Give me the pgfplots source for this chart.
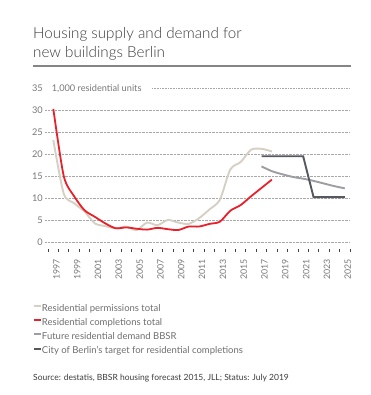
\documentclass[border=0pt]{standalone}
\usepackage{fontspec}
\setmainfont{Lato}
\newfontfamily\titlefont{Lato Light}
\usepackage{pgfplots}
\pgfplotsset{compat=1.18}
\definecolor{permc}{HTML}{D5D0C3}
\definecolor{complc}{HTML}{E8202A}
\definecolor{demc}{HTML}{9C9EA3}
\definecolor{targc}{HTML}{55585F}
\definecolor{gridc}{HTML}{A8A8A8}
\definecolor{tickc}{HTML}{777777}
\definecolor{legc}{HTML}{6E6E6E}
\definecolor{titlec}{HTML}{3C3C3C}
\definecolor{rulec}{HTML}{858585}
\begin{document}
\begin{tikzpicture}[x=1pt,y=1pt]
\path[use as bounding box] (0,0) rectangle (370,395);
\node[anchor=base west, inner sep=0pt, text=titlec, font=\titlefont\fontsize{15.2}{18}\selectfont] at (33,356.7) {Housing supply and demand for};
\node[anchor=base west, inner sep=0pt, text=titlec, font=\titlefont\fontsize{15.2}{18}\selectfont] at (33,337.7) {new buildings Berlin};
\draw[rulec, line width=1.8pt] (33,329.3) -- (351,329.3);
\begin{axis}[
  at={(45pt,143pt)}, anchor=south west,
  scale only axis, width=305pt, height=163.3pt,
  xmin=1996.2, xmax=2025.5, ymin=-2.2, ymax=35,
  axis line style={draw=none},
  ytick={0,5,...,30},
  extra y ticks={35}, extra y tick style={grid=none},
  ymajorgrids,
  grid style={gridc, densely dotted, line width=0.6pt},
  major tick length=0pt,
  xtick={1997,1999,...,2025},
  minor xtick={1996.5,1997.5,...,2025.5},
  minor tick length=3pt,
  tick align=inside,
  xtick pos=bottom,
  minor tick style={black!75, line width=0.9pt},
  xticklabel style={rotate=90, anchor=east, inner sep=0pt, font=\fontsize{8.8}{10}\selectfont, text=tickc, yshift=-3pt},
  xticklabel shift=7pt,
  yticklabel style={inner sep=0pt, font=\fontsize{9.2}{10}\selectfont, text=tickc},
  yticklabel shift=2pt,
  /pgf/number format/assume math mode=true,
  x tick label style={/pgf/number format/1000 sep={}},
  legend style={at={(axis description cs:-0.0384,-0.323)}, anchor=north west, draw=none, fill=none,
    inner sep=0pt, outer sep=0pt, font=\fontsize{9.5}{10}\selectfont, text=legc, row sep=5.3pt,
    nodes={inner sep=0pt, text height=6.8pt, text depth=2pt},
    /tikz/every even column/.append style={column sep=2.4pt}},
  legend cell align=left,
  legend image code/.code={\draw[#1, line width=2pt, line cap=butt] (0pt,2.9pt) -- (6.7pt,2.9pt);},
  clip=false,
]
\addplot[permc, line width=1.9pt, smooth, tension=0.45] table {
x y
1997 23.3
1998 11.1
1999 8.9
2000 7.0
2001 4.3
2002 3.7
2003 3.2
2004 3.6
2005 2.8
2006 4.5
2007 3.9
2008 5.1
2009 4.5
2010 4.2
2011 5.5
2012 7.5
2013 9.7
2014 16.6
2015 18.3
2016 21.1
2017 21.3
2018 20.7
};
\addlegendentry{Residential permissions total}
\addplot[complc, line width=1.8pt, smooth, tension=0.45] table {
x y
1997 30.4
1998 15.1
1999 10.5
2000 7.3
2001 5.8
2002 4.3
2003 3.2
2004 3.4
2005 3.1
2006 2.9
2007 3.3
2008 3.0
2009 2.8
2010 3.6
2011 3.6
2012 4.2
2013 4.7
2014 7.2
2015 8.5
2016 10.5
2017 12.4
2018 14.3
};
\addlegendentry{Residential completions total}
\addplot[demc, line width=1.9pt, smooth, tension=0.4] table {
x y
2017 17.3
2018 16.2
2019 15.5
2020 14.9
2021 14.5
2022 14.0
2023 13.4
2024 12.8
2025 12.3
};
\addlegendentry{Future residential demand BBSR}
\addplot[targc, line width=1.9pt] table {
x y
2017 19.6
2018 19.6
2019 19.6
2020 19.6
2021 19.6
2022 10.3
2023 10.3
2024 10.3
2025 10.3
};
\addlegendentry{City of Berlin's target for residential completions}
\end{axis}
\draw[gridc, densely dotted, line width=0.6pt] (152,306.3) -- (350,306.3);
\node[anchor=west, inner sep=0pt, text=tickc, font=\fontsize{9.2}{10}\selectfont] at (51.7,306.3) {1,000 residential units};
\node[anchor=base west, inner sep=0pt, text=titlec, font=\fontsize{8.5}{10}\selectfont] at (33,14.5) {Source: destatis, BBSR housing forecast 2015, JLL; Status: July 2019};
\end{tikzpicture}
\end{document}
